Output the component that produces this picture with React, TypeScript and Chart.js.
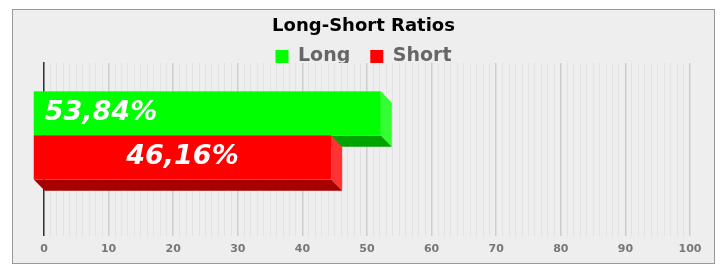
import React, { useEffect, useRef } from 'react';
import { Chart, registerables } from 'chart.js';

Chart.register(...registerables);

// ---- data ----
const TITLE = 'Long-Short Ratios';
const CATEGORIES = ['Ratio'];
const SERIES_NAMES = ['Long', 'Short'];
const LONG_VALUES = [53.84];
const SHORT_VALUES = [46.16];
const X_MIN = 0;
const X_MAX = 100;
const X_STEP = 1;
const X_LABEL_EVERY = 10;

// ---- style ----
const FRONT_COLORS = ['#00ff00', '#ff0000'];
const SIDE_COLORS = ['#33ff33', '#ff3333'];
const BOTTOM_COLORS = ['#00a300', '#a60000'];
const LABEL_ALIGN = ['start', 'center'];
const FONT = "'DejaVu Sans', Verdana, sans-serif";
const DEPTH_X = 11;
const DEPTH_Y = 11.3;
const SHIFT_Y = -2.7;

const bar3dPlugin = {
  id: 'bar3d',
  beforeDatasetsDraw(chart: any) {
    const ctx = chart.ctx;
    ctx.save();
    const labels: any[] = [];
    chart.data.datasets.forEach((ds: any, di: number) => {
      const meta = chart.getDatasetMeta(di);
      if (meta.hidden) return;
      meta.data.forEach((el: any, i: number) => {
        const { x, y, base, height } = el.getProps(['x', 'y', 'base', 'height'], true);
        const top = y - height / 2 + SHIFT_Y;
        const bottom = y + height / 2 + SHIFT_Y;
        const fl = base - DEPTH_X;
        const fr = x - DEPTH_X;
        const ft = top - DEPTH_Y;
        const fb = bottom - DEPTH_Y;
        // right side face
        ctx.fillStyle = SIDE_COLORS[di];
        ctx.beginPath();
        ctx.moveTo(fr, ft);
        ctx.lineTo(x, top);
        ctx.lineTo(x, bottom);
        ctx.lineTo(fr, fb);
        ctx.closePath();
        ctx.fill();
        // bottom face
        ctx.fillStyle = BOTTOM_COLORS[di];
        ctx.beginPath();
        ctx.moveTo(fl, fb);
        ctx.lineTo(fr, fb);
        ctx.lineTo(x, bottom);
        ctx.lineTo(base, bottom);
        ctx.closePath();
        ctx.fill();
        // front face
        ctx.fillStyle = FRONT_COLORS[di];
        ctx.fillRect(fl, ft, fr - fl, fb - ft);
        const v = ds.data[i];
        const text = v.toFixed(2).replace('.', ',') + '%';
        labels.push({
          text,
          align: LABEL_ALIGN[di],
          x: LABEL_ALIGN[di] === 'start' ? base : (fl + fr) / 2,
          y: (ft + fb) / 2,
        });
      });
    });
    ctx.font = `italic bold 27px ${FONT}`;
    ctx.fillStyle = '#ffffff';
    ctx.textBaseline = 'middle';
    labels.forEach((l) => {
      ctx.textAlign = l.align === 'start' ? 'left' : 'center';
      ctx.fillText(l.text, l.x, l.y);
    });
    ctx.restore();
    return false;
  },
};

export default function App() {
  const ref = useRef<HTMLCanvasElement>(null);

  useEffect(() => {
    if (!ref.current) return;
    Chart.defaults.font.family = FONT;
    const chart = new Chart(ref.current, {
      type: 'bar',
      data: {
        labels: CATEGORIES,
        datasets: [
          {
            label: SERIES_NAMES[0],
            data: LONG_VALUES,
            backgroundColor: FRONT_COLORS[0],
            borderWidth: 0,
          },
          {
            label: SERIES_NAMES[1],
            data: SHORT_VALUES,
            backgroundColor: FRONT_COLORS[1],
            borderWidth: 0,
          },
        ],
      },
      options: {
        indexAxis: 'y',
        responsive: false,
        devicePixelRatio: 1,
        animation: false,
        events: [],
        categoryPercentage: 0.51,
        barPercentage: 1,
        layout: { padding: { top: 0, left: 12, right: 9, bottom: 13 } },
        scales: {
          x: {
            type: 'linear',
            position: 'bottom',
            min: X_MIN,
            max: X_MAX,
            border: { display: false },
            grid: {
              drawTicks: false,
              color: (c: any) =>
                c.tick && c.tick.value % X_LABEL_EVERY === 0 ? '#cdcdcd' : '#e2e2e2',
              lineWidth: (c: any) =>
                c.tick && c.tick.value % X_LABEL_EVERY === 0 ? 1.5 : 1,
            },
            ticks: {
              stepSize: X_STEP,
              maxTicksLimit: 101,
              autoSkip: false,
              maxRotation: 0,
              minRotation: 0,
              padding: 7,
              color: '#777777',
              font: { size: 11, weight: 'bold' },
              callback: (v: any) => (Number(v) % X_LABEL_EVERY === 0 ? String(v) : ''),
            },
          },
          y: {
            type: 'category',
            position: 'left',
            grid: { display: false, drawTicks: false },
            ticks: { display: false },
            border: { display: true, color: '#333333', width: 1.5 },
            afterFit: (s: any) => {
              s.width = 32;
            },
          },
          yRight: {
            type: 'category',
            position: 'right',
            grid: { display: false, drawTicks: false },
            ticks: { display: false },
            border: { display: false },
            afterFit: (s: any) => {
              s.width = 25;
            },
          },
        },
        plugins: {
          tooltip: { enabled: false },
          title: {
            display: true,
            text: TITLE,
            color: '#000000',
            font: { size: 18, weight: 'bold', lineHeight: 1.2 },
            padding: { top: 16, bottom: -10.6 },
          },
          legend: {
            display: true,
            position: 'top',
            align: 'center',
            maxHeight: 36,
            labels: {
              boxWidth: 13,
              boxHeight: 13,
              padding: 20,
              color: '#666666',
              font: { size: 19, weight: 'bold' },
            },
          },
        },
      },
      plugins: [bar3dPlugin],
    } as any);
    return () => chart.destroy();
  }, []);

  return (
    <div style={{ position: 'absolute', left: 0, top: 0, width: 724, height: 276, background: '#ffffff' }}>
      <div
        style={{
          position: 'absolute',
          left: 12,
          top: 9,
          width: 703,
          height: 255,
          boxSizing: 'border-box',
          border: '1px solid #999999',
          background: '#eeeeee',
        }}
      />
      <canvas
        ref={ref}
        width={724}
        height={276}
        style={{ position: 'absolute', left: 0, top: 0, width: 724, height: 276 }}
      />
    </div>
  );
}
